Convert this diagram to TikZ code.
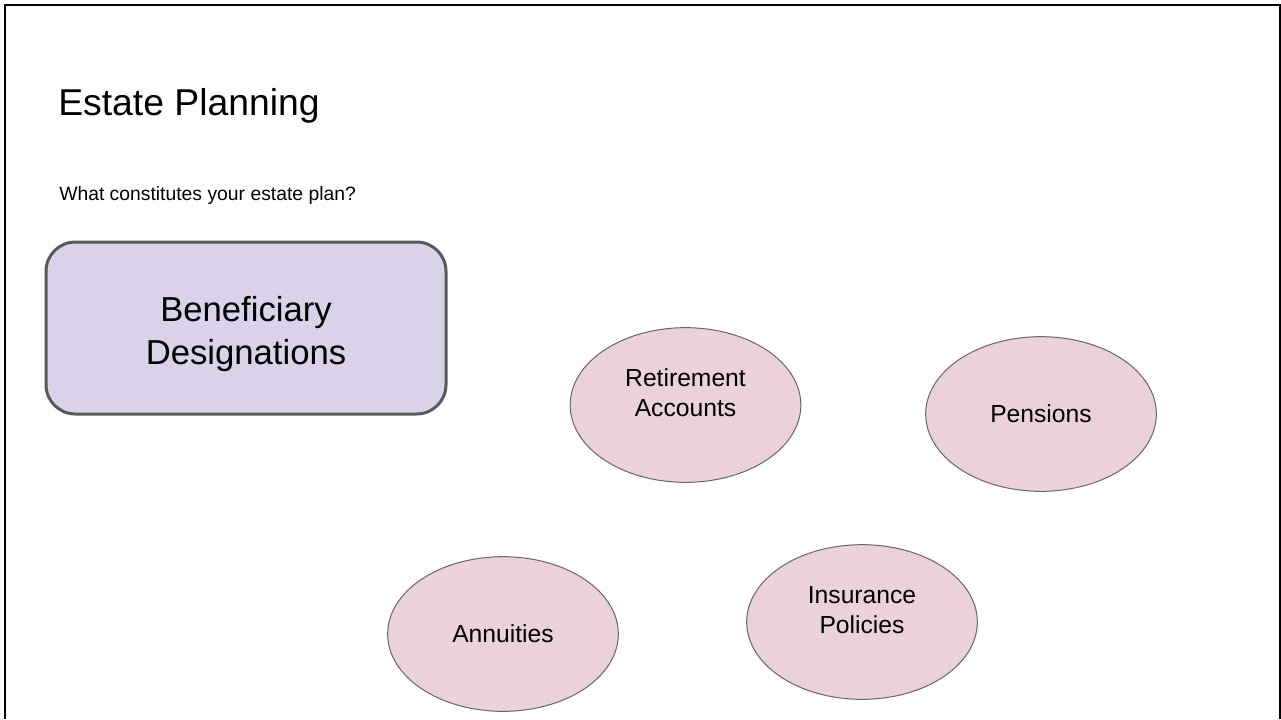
\documentclass[tikz,border=0pt]{standalone}
\usepackage{fontspec}
\setmainfont{Liberation Sans}
\usetikzlibrary{shapes.geometric, positioning}
\definecolor{boxfill}{HTML}{D9D2E9}
\definecolor{boxline}{HTML}{595959}
\definecolor{ovalfill}{HTML}{EAD1DC}
\definecolor{ovalline}{HTML}{666666}

\begin{document}
\begin{tikzpicture}[x=0.75pt, y=-0.75pt]
    \tikzstyle{frame}=[draw=black, line width=1.5pt]
    \tikzstyle{heading}=[anchor=base west, inner sep=0pt, font=\fontsize{28}{32}\selectfont]
    \tikzstyle{subheading}=[anchor=base west, inner sep=0pt, font=\fontsize{14.5}{17}\selectfont]
    \tikzstyle{topic}=[rectangle, rounded corners=22pt, fill=boxfill, draw=boxline, line width=2.25pt,
        minimum width=300pt, minimum height=129pt]
    \tikzstyle{topictext}=[align=center, font=\fontsize{26}{32}\selectfont]
    \tikzstyle{item}=[ellipse, fill=ovalfill, draw=ovalline, line width=0.75pt, inner sep=0pt,
        minimum width=173pt, minimum height=116pt]
    \tikzstyle{itemtext}=[align=center, font=\fontsize{18.5}{22.5}\selectfont]

    % Page size and the open frame
    \useasboundingbox (0,0) rectangle (1281,719);
    \draw[frame] (5,719) -- (5,5) -- (1279.5,5) -- (1279.5,719);

    % Titles
    \node[heading] (title) at (58,115) {Estate Planning};
    \node[subheading] (question) at (59,200) {What constitutes your estate plan?};

    % The main box
    \node[topic, label={[topictext, yshift=-4.5pt]center:Beneficiary\\Designations}] (B) at (246,328) {};

    % The ovals (two-line texts sit a bit above the middle)
    \foreach \name / \x / \y / \up / \txt in {R/685.5/405/9.5pt/{Retirement\\Accounts},
                                              P/1041/414/0pt/{Pensions},
                                              A/503/634/0pt/{Annuities},
                                              I/862/622/9pt/{Insurance\\Policies}}
        \node[item, label={[itemtext, yshift=\up]center:\txt}] (\name) at (\x,\y) {};
\end{tikzpicture}
\end{document}
